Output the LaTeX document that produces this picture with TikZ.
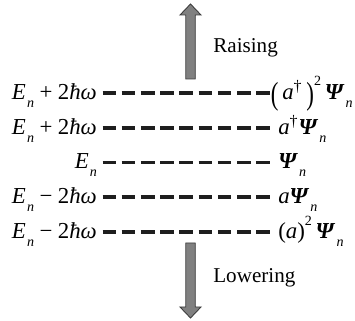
\documentclass[tikz,border=0pt]{standalone}
\usepackage{fontspec}
\setmainfont{Liberation Serif}
\usepackage{graphicx}
\usetikzlibrary{positioning}
\definecolor{arrowgray}{RGB}{128,128,128}
\definecolor{edgegray}{RGB}{60,60,60}
\definecolor{levelblack}{RGB}{30,30,30}

\newcommand{\lowidx}[1]{\kern0.05em\raisebox{-0.75ex}{\fontsize{8}{8}\selectfont\textit{#1}}}
\newcommand{\En}{\textit{E}\lowidx{n}}
\newcommand{\wavefn}{\textbf{\textit{Ψ}}\lowidx{n}}
\newcommand{\hw}{2\textit{ħω}}
\newcommand{\op}[1]{\hspace{0.24em}#1\hspace{0.24em}}
\newcommand{\bigparen}[1]{\raisebox{-0.2em}{\scalebox{1}[1.4]{#1}}}

\begin{document}
\begin{tikzpicture}[
  font=\fontsize{13}{15}\selectfont,
  llabel/.style={anchor=east, inner xsep=3pt, inner ysep=0pt, text height=0.42cm, text depth=0.16cm},
  rlabel/.style={inner xsep=4.5pt, inner ysep=0pt, text height=0.42cm, text depth=0.16cm},
  level/.style={draw=levelblack, line width=2pt, dash pattern=on 7.7pt off 3.25pt},
  blockarrow/.style={draw=edgegray, fill=arrowgray, line width=0.5pt},
  tag/.style={anchor=base west, inner sep=0pt, font=\fontsize{12}{14}\selectfont}
]
\useasboundingbox (0,0) rectangle (7.1,-6.42);

% energy levels, left side
\node[llabel] (l1) at (2.05,-1.86) {\En\op{+}\hw};
\node[llabel] (l2) at (2.05,-2.555) {\En\op{+}\hw};
\node[llabel] (l3) at (2.05,-3.25) {\En};
\node[llabel] (l4) at (2.05,-3.945) {\En\op{−}\hw};
\node[llabel] (l5) at (2.05,-4.64) {\En\op{−}\hw};

% states, right side
\node[rlabel, right=3.35cm of l1, inner xsep=0.3pt] (r1) {\bigparen{(}\,\textit{a}\textsuperscript{†}\,\bigparen{)}\raisebox{0.6em}{\fontsize{8}{8}\selectfont 2}\,\wavefn};
\node[rlabel, right=3.35cm of l2] (r2) {\textit{a}\textsuperscript{†}\wavefn};
\node[rlabel, right=3.35cm of l3] (r3) {\wavefn};
\node[rlabel, right=3.35cm of l4] (r4) {\textit{a}\wavefn};
\node[rlabel, right=3.35cm of l5] (r5) {(\textit{a})\raisebox{0.55em}{\fontsize{8}{8}\selectfont 2}\,\wavefn};

\draw[level] (l1) -- (r1);
\draw[level] (l2) -- (r2);
\draw[level] (l3) -- (r3);
\draw[level] (l4) -- (r4);
\draw[level] (l5) -- (r5);

% raising / lowering arrows
\draw[blockarrow] (3.715,-1.58) -- (3.715,-0.30) -- (3.60,-0.30) -- (3.81,-0.08)
  -- (4.02,-0.30) -- (3.905,-0.30) -- (3.905,-1.58) -- cycle;
\draw[blockarrow] (3.715,-4.86) -- (3.715,-6.14) -- (3.60,-6.14) -- (3.81,-6.36)
  -- (4.02,-6.14) -- (3.905,-6.14) -- (3.905,-4.86) -- cycle;
\node[tag] (raise) at (4.26,-1.06) {Raising};
\node[tag] (lower) at (4.26,-5.66) {Lowering};
\end{tikzpicture}
\end{document}
